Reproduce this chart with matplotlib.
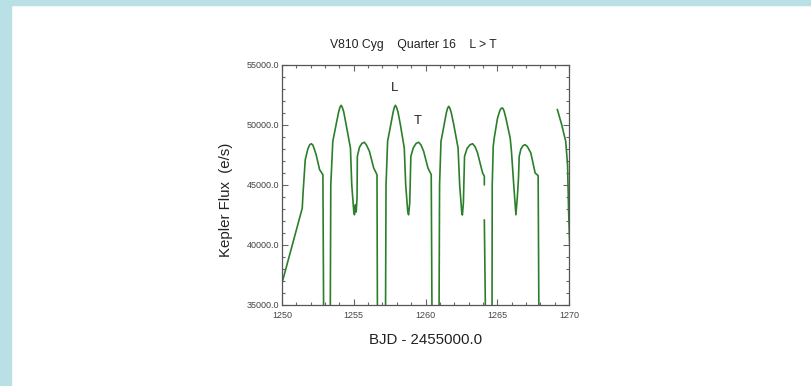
import numpy as np
import matplotlib
matplotlib.use("Agg")
import matplotlib.pyplot as plt
from matplotlib.patches import Rectangle
from matplotlib.ticker import MultipleLocator, FormatStrFormatter

plt.rcParams['font.family'] = ['Liberation Sans', 'DejaVu Sans']

# light curve (NaN = break in the line, 30000 = below the frame)
nan = np.nan
bjd = [
    1250.00, 1251.41, 1251.46, 1251.62, 1251.80, 1251.92, 1252.03, 1252.14, 1252.25, 1252.38,
    1252.62, 1252.85, 1252.92, 1253.35, 1253.40, 1253.54, 1253.77, 1253.95, 1254.04, 1254.12,
    1254.20, 1254.30, 1254.47, 1254.77, 1254.86, 1255.00, 1255.05, 1255.12, 1255.17, 1255.23,
    1255.25, 1255.40, 1255.58, 1255.74, 1255.90, 1256.09, 1256.39, 1256.62, 1256.66,
    1257.20, 1257.25, 1257.36, 1257.58, 1257.75, 1257.83, 1257.90, 1257.98, 1258.08, 1258.25,
    1258.52, 1258.62, 1258.76, 1258.82, 1258.90, 1258.98, 1259.15, 1259.35, 1259.52, 1259.68,
    1259.87, 1260.17, 1260.40, 1260.47,
    1260.93, 1260.98, 1261.08, 1261.30, 1261.45, 1261.54, 1261.62, 1261.70, 1261.80, 1261.97,
    1262.27, 1262.38, 1262.52, 1262.57, 1262.64, 1262.72, 1262.90, 1263.10, 1263.28, 1263.45,
    1263.62, 1263.98, 1264.10, 1264.10,
    nan, 1264.10, 1264.22,
    1264.63, 1264.65, 1264.72, 1264.79, 1265.02, 1265.18, 1265.27, 1265.33, 1265.40, 1265.48,
    1265.60, 1265.90, 1265.99, 1266.15, 1266.30, 1266.40, 1266.48, 1266.53, 1266.65, 1266.80,
    1266.94, 1267.10, 1267.34, 1267.64, 1267.85, 1267.92,
    nan, 1269.19, 1269.49, 1269.77, 1269.90, 1269.97, 1270.05,
]
flux = [
    36830, 43060, 44190, 47110, 48000, 48330, 48440, 48350, 48000, 47520,
    46280, 45860, 30000, 30000, 45000, 48640, 50030, 51100, 51480, 51640,
    51480, 51100, 50030, 48080, 45030, 42810, 42520, 43360, 42750, 43920,
    47390, 48150, 48480, 48560, 48300, 47810, 46420, 45860, 30000,
    30000, 45000, 48640, 50030, 51100, 51480, 51640, 51480, 51100, 50030,
    48080, 45030, 42810, 42520, 43500, 47390, 48100, 48470, 48560, 48350,
    47810, 46420, 45860, 30000,
    30000, 45000, 48640, 50030, 51000, 51400, 51560, 51400, 51000, 50030,
    48080, 45030, 42810, 42500, 43500, 47390, 48050, 48350, 48440, 48200,
    47700, 46000, 45730, 45030,
    nan, 42080, 30000,
    30000, 45000, 48230, 48920, 50580, 51200, 51380, 51420, 51370, 51150,
    50580, 48920, 47810, 45000, 42520, 44000, 45580, 47390, 48000, 48280,
    48360, 48200, 47670, 46000, 45780, 30000,
    nan, 51280, 50030, 48640, 46690, 42920, 40000,
]

W, H = 811, 386
fig = plt.figure(figsize=(W / 100, H / 100), dpi=100, facecolor='white')

# light blue frame strips (left and top)
blue = '#b9e0e4'
fig.patches.append(Rectangle((0, 0), 11 / W, 1, transform=fig.transFigure,
                             color=blue, zorder=0))
fig.patches.append(Rectangle((0, 1 - 5 / H), 1, 5 / H, transform=fig.transFigure,
                             color=blue, zorder=0))

ax = fig.add_axes([282 / W, 81 / H, 287 / W, 240 / H])
ax.plot(bjd, flux, color='#2b7f2b', lw=1.2, solid_joinstyle='round')

ax.set_xlim(1250, 1270)
ax.set_ylim(35000, 55000)
ax.xaxis.set_major_locator(MultipleLocator(5))
ax.xaxis.set_minor_locator(MultipleLocator(1))
ax.yaxis.set_major_locator(MultipleLocator(5000))
ax.yaxis.set_minor_locator(MultipleLocator(1000))
ax.yaxis.set_major_formatter(FormatStrFormatter('%.1f'))

ax.tick_params(which='both', direction='in', top=True, right=True,
               colors='#666666', labelcolor='#444444', labelsize=6.5, width=0.8)
ax.tick_params(which='major', length=4, pad=2)
ax.tick_params(which='minor', length=2.5)
ax.tick_params(axis='x', which='major', pad=4)
for s in ax.spines.values():
    s.set_color('#555555')
    s.set_linewidth(0.9)

# title sits a little left of the axes centre in the original
fig.text(413 / W, 1 - 45 / H, 'V810 Cyg    Quarter 16    L > T', fontsize=8.8,
         color='#222222', ha='center', va='center')

ax.set_xlabel('BJD - 2455000.0', fontsize=10.8, color='#222222')
ax.xaxis.set_label_coords(0.5, -0.117)
ax.set_ylabel('Kepler Flux  (e/s)', fontsize=10.8, color='#222222')
ax.yaxis.label.set_va('center')
ax.yaxis.set_label_coords(-0.195, 0.4375)

ax.text(1257.85, 53100, 'L', fontsize=9.5, color='#222222', ha='center', va='center')
ax.text(1259.45, 50350, 'T', fontsize=9.5, color='#222222', ha='center', va='center')

fig.savefig('out.png', dpi=100, facecolor=fig.get_facecolor())
